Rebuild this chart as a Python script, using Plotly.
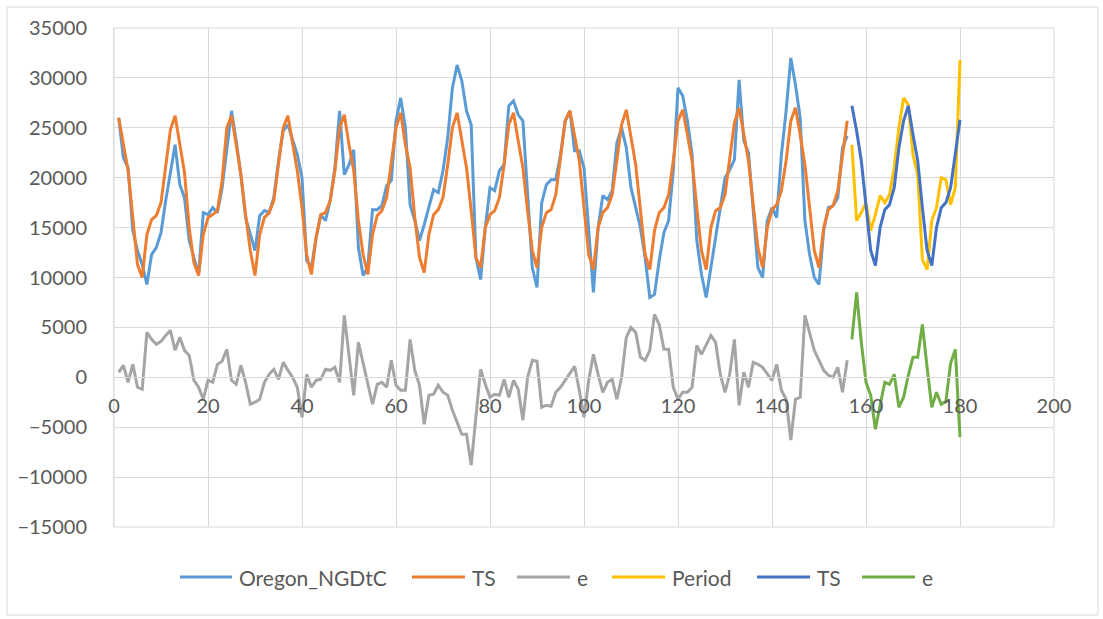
import plotly.graph_objects as go

x_hist = list(range(1, 157))
x_fc = list(range(157, 181))

oregon = [26000, 22000, 21000, 14700, 12700, 11300, 9300, 12300, 13000, 14500, 17700, 20700,
          23300, 19300, 18000, 13700, 12000, 10300, 16500, 16300, 17000, 16500, 19000, 22700,
          26700, 23700, 20300, 16000, 14300, 12700, 16200, 16700, 16500, 18000, 21700, 24700,
          25300, 23700, 22300, 20000, 11700, 11000, 14000, 16300, 15700, 17700, 21000, 26700,
          20300, 21300, 22800, 13000, 10200, 11000, 16800, 16800, 17200, 19200, 19700, 25700,
          28000, 25000, 17300, 15700, 13700, 15300, 17000, 18800, 18500, 20700, 24000, 29000,
          31300, 29700, 26700, 25300, 12000, 9800, 15000, 19000, 18700, 20700, 21300, 27200,
          27700, 26300, 25700, 18000, 11000, 9000, 17500, 19300, 19800, 19800, 22300, 25700,
          26700, 22700, 22700, 21000, 14300, 8500, 15000, 18200, 17800, 18700, 23500, 25000,
          23000, 19000, 17000, 15000, 12000, 8000, 8300, 11700, 14500, 15700, 20700, 29000,
          28200, 25700, 22300, 13700, 10300, 8000, 11000, 14000, 17000, 20000, 20800, 21800,
          29800, 23700, 22500, 17000, 11000, 10000, 15700, 17000, 16000, 22300, 26700, 32000,
          29300, 26000, 15700, 12300, 10000, 9300, 14700, 17000, 17200, 18000, 23000, 24200]

ts_hist = [26000, 23300, 20700, 16000, 11300, 10000, 14300, 15800, 16200, 17500, 21000, 24800,
           26200, 23300, 20500, 15000, 11500, 10200, 14300, 16000, 16300, 16700, 19700, 25000,
           26200, 23300, 20300, 16300, 12700, 10200, 14300, 16000, 16500, 17700, 21300, 25000,
           26200, 23300, 20700, 17000, 12300, 10300, 14000, 16300, 16500, 17700, 20700, 25000,
           26300, 23300, 20700, 15700, 12300, 10300, 14300, 16200, 16700, 18000, 21300, 25000,
           26500, 23300, 21000, 16000, 12000, 10500, 14300, 16300, 16800, 18000, 21300, 25000,
           26500, 23700, 21000, 16700, 12000, 11000, 15000, 16300, 16700, 18000, 21300, 25300,
           26500, 23700, 21000, 16700, 12700, 11000, 15000, 16500, 16800, 18300, 22000, 25700,
           26700, 24000, 21700, 17000, 12300, 10800, 15000, 16500, 17000, 18300, 21700, 25300,
           26800, 24000, 21300, 16800, 12300, 10800, 14700, 16500, 17000, 18300, 21700, 25700,
           26800, 24300, 21700, 17000, 12700, 10800, 15000, 16700, 17000, 18300, 21700, 25500,
           27000, 24300, 21700, 17300, 13000, 11000, 15000, 16800, 17300, 18700, 21700, 25700,
           27000, 24300, 21300, 17000, 12700, 11000, 15000, 16800, 17200, 18700, 22000, 25700]

e_hist = [500, 1200, -500, 1300, -1000, -1200, 4500, 3800, 3300, 3600, 4200, 4700,
          2700, 4000, 2700, 2200, -300, -1000, -2200, -300, -500, 1300, 1600, 2800,
          -300, -700, 1200, -500, -2700, -2500, -2200, -500, 300, 800, -200, 1500,
          700, 0, -1000, -4000, 300, -1000, -300, -200, 800, 700, 1000, -500,
          6200, 2000, -1800, 3500, 1500, -700, -2700, -700, -500, -1000, 1700, -800,
          -1300, -1300, 3800, 700, -800, -4700, -1800, -1700, -800, -1500, -1800, -3300,
          -4500, -5700, -5700, -8800, -4000, 800, -700, -2000, -1700, -1800, -200, -2000,
          -300, -1200, -4300, 0, 1700, 1600, -3000, -2800, -2900, -1500, -1000, -300,
          500, 1100, -1300, -4000, -300, 2300, 300, -1500, -500, -200, -2200, 0,
          4000, 5000, 4500, 2000, 1700, 2700, 6300, 5300, 2800, 2800, -1000, -2200,
          -1500, -1500, -1000, 3200, 2300, 3200, 4200, 3500, 300, -1500, 300, 3800,
          -2800, 500, -1000, 1500, 1300, 1000, 300, -300, 1300, -1300, -2200, -6300,
          -2200, -2000, 6200, 4500, 2700, 1700, 700, 200, 0, 1000, -1500, 1700]

period_fc = [23300, 15700, 16500, 17500, 14700, 16300, 18200, 17500, 18300, 21000, 25000, 28000,
             27300, 22300, 20300, 11800, 10800, 15700, 17000, 20000, 19800, 17300, 19000, 31800]

ts_fc = [27200, 24700, 21700, 17000, 12700, 11200, 15000, 16800, 17300, 19000, 23000, 25700,
         27200, 24300, 21700, 17000, 12700, 11200, 15000, 17000, 17500, 19000, 22300, 25800]

e_fc = [3800, 8500, 3500, -500, -1800, -5200, -2800, -500, -700, 300, -3000, -2000,
        200, 2000, 2000, 5300, 1000, -3000, -1500, -2700, -2400, 1400, 2800, -6000]

series_names = ["Oregon_NGDtC", "TS", "e", "Period", "TS", "e"]
series_colors = ["#5B9BD5", "#ED7D31", "#A5A5A5", "#FFC000", "#4472C4", "#70AD47"]
series_x = [x_hist, x_hist, x_hist, x_fc, x_fc, x_fc]
series_y = [oregon, ts_hist, e_hist, period_fc, ts_fc, e_fc]

FONT = "Lato"
TXT = "#595959"
GRID = "#D9D9D9"

fig = go.Figure()
for name, xs, ys, col in zip(series_names, series_x, series_y, series_colors):
    fig.add_trace(go.Scatter(x=xs, y=ys, mode="lines", name=name,
                             line=dict(color=col, width=3), showlegend=False))

# Legend drawn Excel-style (long line samples), positions in pixels -> paper
L, W, T, H = 114, 940, 28, 499
def px2x(px):
    return (px - L) / W
def py2y(py):
    return (T + H - py) / H

leg_lines = [(180, 232), (412, 465), (517, 570), (612, 665), (757, 810), (862, 915)]
leg_y = py2y(577)
shapes = [
    dict(type="rect", xref="paper", yref="paper", x0=0, x1=1, y0=0, y1=1,
         line=dict(color=GRID, width=1), fillcolor="rgba(0,0,0,0)", layer="below"),
    dict(type="rect", xref="paper", yref="paper", x0=px2x(7), x1=px2x(1098),
         y0=py2y(615), y1=py2y(7),
         line=dict(color=GRID, width=1), fillcolor="rgba(0,0,0,0)"),
]
annotations = []
for (a, b), name, col in zip(leg_lines, series_names, series_colors):
    shapes.append(dict(type="line", xref="paper", yref="paper", x0=px2x(a), x1=px2x(b),
                       y0=leg_y, y1=leg_y, line=dict(color=col, width=3)))
    annotations.append(dict(xref="paper", yref="paper", x=px2x(b + 5), y=leg_y,
                            xanchor="left", yanchor="middle", showarrow=False, text=name,
                            font=dict(family=FONT, size=21, color=TXT)))

fig.update_layout(
    width=1103, height=619,
    margin=dict(l=114, r=49, t=28, b=92),
    paper_bgcolor="white", plot_bgcolor="white",
    font=dict(family=FONT, size=20, color=TXT),
    showlegend=False,
    xaxis=dict(range=[0, 200], dtick=20, tick0=0, showgrid=True, gridcolor=GRID, gridwidth=1,
               anchor="free", position=0.3, showline=True, linecolor=GRID, linewidth=1,
               zeroline=False, ticks="", ticklabelstandoff=11,
               tickfont=dict(family=FONT, size=20, color=TXT)),
    yaxis=dict(range=[-15000, 35000], dtick=5000, tick0=0, showgrid=True, gridcolor=GRID,
               gridwidth=1, zeroline=False, showline=True, linecolor=GRID, linewidth=1,
               ticks="", ticklabelstandoff=22, tickformat="d",
               tickfont=dict(family=FONT, size=20, color=TXT)),
    shapes=shapes,
    annotations=annotations,
)

fig.write_html("out.html")
